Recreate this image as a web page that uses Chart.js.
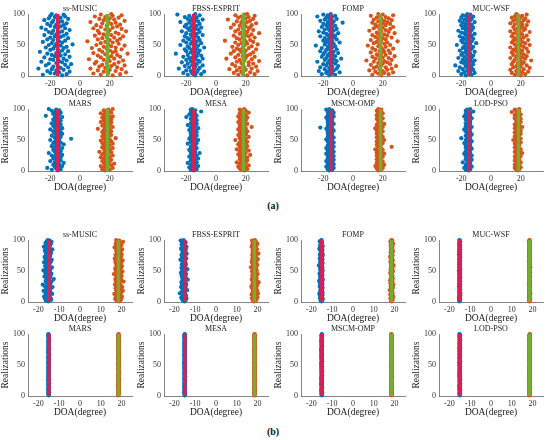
<!DOCTYPE html>
<html lang="en">
<head>
    <meta charset="UTF-8">
    <title>DOA estimates per realization</title>
    <script src="https://cdn.jsdelivr.net/npm/chart.js"></script>
    <style>
        body { margin: 0; background: #fff; width: 550px; height: 440px; overflow: hidden; position: relative; }
        canvas.panel { position: absolute; }
        .tag { position: absolute; font: bold 10px "Liberation Serif", serif; color: #111; transform: translate(-50%, -50%); }
    </style>
</head>
<body>

    <div class="tag" style="left:273px; top:205px;">(a)</div>
    <div class="tag" style="left:273px; top:431px;">(b)</div>

    <script>
        // method names, same order in (a) and (b)
        const methods = ['ss-MUSIC', 'FBSS-ESPRIT', 'FOMP', 'MUC-WSF', 'MARS', 'MESA', 'MSCM-OMP', 'LOD-PSO'];
        const trueDoa = [-15, 18.5];
        const xTicksA = [-20, 0, 20];
        const xTicksB = [-20, -10, 0, 10, 20];
        const yTicks = [0, 50, 100];
        const realizations = Array.from({ length: 100 }, (_, i) => i + 1);

        // ---- (a) estimates, source 1 / source 2 ----
        const aMusicS1 = [-12,-25,-9,-17,-20,-14,-7,-22,-16,-11,-19,-28,-13,-8,-18,-15,-23,-10,-6,-21,
            -16,-12,-26,-14,-9,-18,-20,-11,-15,-24,-7,-17,-13,-19,-10,-22,-16,-14,-27,-8,
            -12,-20,-15,-18,-11,-23,-9,-17,-13,-21,-5,-16,-19,-12,-25,-14,-10,-18,-22,-15,
            -8,-20,-13,-17,-11,-24,-16,-9,-19,-14,-21,-12,-18,-7,-23,-15,-10,-26,-17,-13,
            -20,-11,-16,-22,-9,-19,-14,-12,-18,-24,-15,-8,-21,-13,-17,-10,-20,-16,-11,-19];
        const aMusicS2 = [22,14,27,9,19,31,16,24,12,20,28,7,17,25,13,21,30,15,23,10,
            18,26,11,20,29,16,6,23,19,14,27,21,12,25,17,32,9,22,15,24,
            20,13,28,18,8,24,16,21,30,11,19,26,14,22,17,5,25,20,12,27,
            15,23,18,29,10,21,16,26,13,24,19,31,12,20,17,28,9,22,14,25,
            18,11,27,21,15,24,7,19,30,16,23,13,20,26,17,10,22,28,14,21];
        const aEspritS1 = [-14,-19,-10,-16,-22,-13,-8,-17,-20,-12,-15,-25,-11,-18,-14,-21,-9,-16,-13,-19,
            -15,-23,-11,-17,-12,-20,-14,-9,-18,-16,-22,-13,-10,-19,-15,-27,-12,-17,-14,-20,
            -11,-16,-21,-13,-18,-8,-15,-19,-12,-24,-14,-17,-10,-20,-16,-13,-22,-11,-18,-15,
            -19,-12,-16,-21,-14,-9,-17,-13,-20,-15,-11,-23,-16,-18,-12,-14,-19,-10,-17,-21,
            -13,-16,-20,-11,-15,-18,-24,-12,-17,-14,-9,-19,-16,-13,-21,-15,-18,-11,-26,-14];
        const aEspritS2 = [21,15,26,18,12,23,17,28,14,20,9,24,16,19,27,13,22,18,11,25,
            17,22,14,29,19,16,24,7,20,13,26,18,21,15,23,10,19,25,17,12,
            20,16,27,14,22,18,11,24,19,15,28,21,17,13,25,20,6,23,16,19,
            14,26,18,22,12,20,24,16,29,17,21,13,19,25,15,22,18,10,23,20,
            16,24,12,19,27,17,21,14,23,18,8,25,20,15,22,17,26,13,19,21];
        const aFompS1 = [-16,-12,-21,-14,-18,-9,-17,-23,-13,-15,-19,-11,-16,-22,-14,-10,-18,-15,-20,-12,
            -17,-14,-24,-11,-16,-19,-13,-8,-18,-15,-21,-12,-17,-14,-20,-16,-10,-19,-13,-22,
            -15,-18,-11,-16,-21,-14,-17,-12,-25,-15,-19,-13,-16,-9,-18,-14,-20,-17,-11,-15,
            -19,-13,-16,-22,-12,-17,-14,-18,-10,-20,-15,-23,-13,-16,-19,-11,-17,-14,-21,-15,
            -12,-18,-16,-20,-14,-7,-17,-13,-22,-15,-19,-11,-16,-18,-14,-24,-12,-17,-20,-15];
        const aFompS2 = [19,13,24,17,21,27,15,20,11,23,18,26,14,22,16,29,19,12,25,20,
            17,23,14,21,9,26,18,15,24,20,13,28,17,22,16,19,25,12,21,18,
            24,15,20,27,13,19,22,17,10,25,18,21,14,23,16,30,19,12,22,17,
            20,26,15,18,23,13,21,17,28,16,24,19,11,22,18,25,14,20,27,16,
            18,22,15,25,20,13,23,17,21,26,14,19,24,16,22,18,12,27,20,17];
        const aMucS1 = [-17,-13,-20,-15,-11,-18,-14,-22,-16,-12,-19,-15,-13,-21,-17,-14,-24,-16,-12,-18,
            -15,-20,-13,-17,-11,-19,-14,-16,-22,-13,-18,-15,-12,-20,-16,-14,-19,-17,-11,-15,
            -21,-14,-17,-13,-19,-16,-12,-18,-15,-23,-14,-17,-10,-19,-16,-13,-20,-15,-18,-12,
            -16,-19,-14,-21,-13,-17,-15,-11,-18,-20,-14,-16,-22,-13,-17,-15,-19,-12,-16,-18,
            -14,-20,-13,-17,-15,-19,-11,-16,-21,-14,-18,-13,-16,-20,-15,-12,-17,-19,-14,-16];
        const aMucS2 = [20,16,23,18,14,21,25,17,19,13,22,18,26,15,20,17,24,19,14,21,
            18,22,15,20,27,16,19,23,13,21,17,24,19,15,22,18,20,14,25,17,
            21,15,19,24,17,13,22,18,20,26,16,19,23,14,21,18,15,25,17,20,
            16,22,19,14,24,18,21,15,20,17,26,13,19,22,16,23,18,20,15,21,
            19,24,16,21,13,20,18,25,15,22,17,19,23,14,20,16,21,18,24,17];
        const aMarsS1 = [-15,-19,-13,-16,-22,-14,-17,-12,-15,-18,-14,-16,-11,-17,-15,-20,-13,-16,-14,-18,
            -16,-13,-17,-15,-19,-12,-16,-14,-21,-15,-17,-13,-16,-18,-14,-15,-12,-17,-16,-19,
            -14,-16,-11,-15,-18,-13,-17,-15,-16,-20,-14,-6,-15,-17,-13,-16,-19,-14,-15,-12,
            -17,-15,-13,-18,-16,-14,-20,-15,-12,-17,-16,-14,-18,-15,-13,-16,-19,-14,-17,-15,
            -13,-16,-18,-14,-15,-17,-12,-16,-23,-15,-14,-18,-16,-13,-17,-15,-19,-14,-16,-21];
        const aMarsS2 = [17,20,15,19,22,16,18,14,21,17,19,23,16,18,20,15,17,21,19,16,
            18,14,20,17,22,19,15,18,16,21,13,19,17,20,18,16,22,15,19,17,
            20,16,18,22,15,19,17,21,14,18,20,16,24,17,19,15,18,21,16,20,
            17,19,15,21,18,16,20,12,19,17,22,18,15,20,16,19,17,21,14,18,
            19,16,21,17,18,15,20,22,17,19,16,18,14,21,17,20,18,16,19,22];
        const aMesaS1 = [-15,-17,-13,-16,-14,-18,-15,-12,-16,-17,-14,-15,-19,-13,-16,-15,-17,-14,-16,-12,
            -16,-14,-18,-15,-13,-17,-15,-16,-11,-14,-17,-15,-16,-18,-14,-15,-13,-16,-17,-15,
            -14,-16,-15,-19,-13,-15,-17,-14,-16,-12,-15,-18,-14,-16,-15,-17,-13,-16,-15,-14,
            -17,-15,-13,-16,-14,-18,-15,-16,-12,-17,-15,-14,-16,-19,-15,-13,-17,-16,-14,-15,
            -16,-13,-15,-17,-14,-16,-20,-15,-13,-16,-18,-14,-15,-17,-16,-10,-15,-14,-17,-16];
        const aMesaS2 = [19,17,21,16,18,20,15,19,22,17,18,16,20,14,19,17,21,18,16,20,
            18,21,16,19,17,23,15,18,20,17,19,16,22,18,14,20,17,19,16,21,
            17,19,15,20,18,16,21,19,17,13,18,20,16,19,22,17,18,15,20,17,
            20,16,18,21,17,19,15,18,20,16,24,17,19,18,16,21,17,19,15,18,
            18,20,16,19,17,21,18,15,19,20,17,18,16,22,19,17,20,18,16,19];
        const aMscmS1 = [-16,-14,-17,-15,-13,-16,-18,-15,-14,-16,-13,-17,-15,-16,-14,-18,-15,-13,-16,-17,
            -15,-14,-16,-13,-17,-15,-16,-18,-14,-15,-13,-16,-17,-15,-14,-16,-18,-15,-13,-16,
            -17,-15,-14,-16,-15,-13,-17,-16,-15,-14,-18,-16,-15,-13,-17,-15,-16,-14,-15,-17,
            -16,-14,-15,-17,-13,-16,-15,-18,-14,-22,-16,-15,-17,-14,-16,-13,-15,-17,-16,-14,
            -15,-17,-16,-14,-15,-18,-16,-13,-15,-17,-14,-16,-15,-13,-17,-16,-15,-14,-18,-16];
        const aMscmS2 = [17,19,18,16,20,17,19,15,18,21,17,19,16,18,20,17,18,19,16,18,
            19,17,20,18,16,19,17,21,18,16,19,18,17,20,15,18,19,17,26,18,
            18,16,19,17,20,18,19,16,17,21,18,19,17,16,20,18,17,19,18,16,
            17,19,18,20,16,18,17,19,15,18,20,17,19,18,16,21,18,17,19,18,
            19,17,18,16,20,18,17,19,18,16,19,17,20,18,17,19,16,18,19,17];
        const aLodS1 = [-15,-17,-14,-16,-18,-15,-13,-16,-15,-17,-14,-16,-15,-19,-14,-16,-15,-13,-17,-15,
            -16,-14,-15,-17,-13,-16,-15,-18,-14,-16,-15,-17,-14,-16,-15,-13,-16,-17,-15,-14,
            -17,-15,-16,-14,-18,-15,-16,-13,-15,-17,-14,-16,-20,-15,-16,-14,-17,-15,-13,-16,
            -15,-16,-14,-17,-15,-16,-18,-14,-15,-16,-13,-17,-15,-14,-16,-15,-17,-14,-16,-15,
            -14,-16,-17,-15,-13,-16,-15,-18,-14,-16,-15,-17,-14,-15,-16,-12,-17,-15,-16,-14];
        const aLodS2 = [18,17,19,18,16,20,17,19,18,16,19,17,18,20,17,19,16,18,19,17,
            19,18,16,20,17,18,19,17,21,18,16,19,18,17,20,18,19,16,18,17,
            17,19,18,16,19,20,17,18,19,15,18,20,17,19,18,16,19,17,18,20,
            18,16,19,17,20,18,17,19,16,18,21,17,19,18,16,19,18,17,20,18,
            19,17,18,20,16,18,19,17,18,16,20,19,17,18,14,19,17,18,16,19];

        // ---- (b) estimates, source 1 / source 2 ----
        const bMusicS1 = [-15.2,-16.4,-14.1,-15.8,-13.9,-16.9,-15.0,-14.5,-17.2,-15.6,-14.8,-16.1,-13.4,-15.3,-16.6,-14.2,-15.9,-17.5,-14.7,-15.4,
            -16.3,-14.0,-15.7,-13.2,-16.8,-15.1,-14.6,-17.9,-15.5,-14.3,-16.2,-15.0,-13.7,-16.5,-14.9,-15.8,-12.6,-16.0,-14.4,-15.6,
            -17.1,-15.2,-14.1,-16.4,-15.7,-13.8,-16.7,-15.0,-14.5,-16.1,-17.6,-15.3,-14.2,-15.9,-16.3,-13.5,-15.4,-16.8,-14.8,-15.1,
            -16.0,-14.6,-15.5,-17.3,-14.0,-15.8,-16.4,-13.6,-15.2,-16.7,-14.9,-15.6,-17.0,-14.3,-15.9,-16.2,-14.7,-15.0,-13.9,-16.5,
            -15.3,-14.2,-16.9,-15.7,-13.3,-16.1,-15.0,-14.8,-17.4,-15.5,-14.4,-16.3,-15.1,-14.0,-16.6,-15.8,-13.7,-16.0,-14.6,-15.4];
        const bMusicS2 = [18.7,17.6,19.5,18.2,16.9,19.9,18.4,17.3,20.1,18.8,17.9,19.2,16.5,18.5,19.7,17.7,18.9,20.6,17.4,18.3,
            19.4,17.1,18.6,20.3,17.8,18.1,19.6,16.8,18.9,17.5,19.1,18.4,20.9,17.2,18.7,19.8,17.0,18.2,19.3,17.6,
            18.5,20.0,17.4,18.9,16.3,19.5,18.1,17.7,20.4,18.6,17.2,19.0,18.3,16.9,19.7,18.0,17.5,20.2,18.8,17.9,
            19.2,17.3,18.6,19.9,17.0,18.4,20.5,17.8,18.9,16.7,19.4,18.2,17.6,19.8,18.5,17.1,20.0,18.3,17.7,19.1,
            18.0,19.6,17.4,18.8,20.3,17.9,18.4,16.6,19.3,18.1,17.5,19.9,18.6,17.2,19.0,18.3,20.7,17.8,18.9,17.4];
        const bEspritS1 = [-15.1,-15.8,-14.6,-16.2,-15.4,-14.2,-16.7,-15.0,-15.9,-14.4,-16.0,-15.3,-14.8,-17.4,-15.6,-14.9,-16.3,-15.2,-13.9,-15.7,
            -16.1,-14.7,-15.5,-16.8,-15.0,-14.5,-15.9,-16.4,-14.3,-15.6,-15.1,-16.6,-14.9,-15.4,-16.0,-13.6,-15.7,-15.2,-16.3,-14.6,
            -15.8,-14.9,-16.5,-15.3,-14.4,-15.9,-16.9,-15.1,-14.7,-15.6,-16.2,-15.0,-13.8,-15.5,-16.6,-14.8,-15.4,-16.1,-15.2,-14.5,
            -16.4,-15.0,-14.6,-15.8,-16.0,-14.9,-15.5,-17.1,-15.2,-14.3,-15.7,-16.3,-15.1,-14.7,-15.9,-16.6,-15.4,-14.1,-15.6,-16.0,
            -15.3,-14.8,-16.2,-15.5,-14.5,-16.8,-15.0,-15.7,-14.2,-16.1,-15.4,-14.9,-16.5,-15.1,-15.8,-14.6,-16.3,-15.2,-17.0,-15.6];
        const bEspritS2 = [18.2,19.1,17.7,18.8,19.6,17.3,18.5,19.9,17.9,18.4,19.3,17.1,18.7,20.2,18.0,17.6,19.0,18.3,19.7,17.8,
            18.9,17.4,18.6,19.4,17.0,18.1,19.8,18.5,17.5,19.2,18.0,20.5,17.8,18.7,19.1,17.2,18.4,19.5,18.2,17.6,
            19.3,18.1,17.5,18.9,20.0,17.9,18.6,19.2,17.3,18.3,19.6,18.0,17.7,19.0,18.5,16.8,19.4,18.2,17.9,19.8,
            18.4,17.6,19.1,18.7,17.2,19.5,18.0,18.8,20.1,17.5,18.3,19.3,17.8,18.6,19.0,17.4,18.9,20.4,18.1,17.7,
            19.2,18.3,17.6,18.8,19.7,17.9,18.4,19.0,17.1,18.6,19.4,18.1,17.5,19.9,18.5,17.8,19.2,18.0,17.3,18.7];
        const bFompS1 = [-15.2,-14.8,-15.6,-15.0,-14.5,-15.4,-15.9,-14.9,-15.3,-15.7,-14.7,-15.1,-16.2,-15.5,-14.6,-15.0,-15.8,-15.2,-14.9,-15.4,
            -15.6,-15.0,-14.6,-15.3,-16.0,-14.8,-15.5,-15.1,-14.7,-15.9,-15.2,-14.9,-15.4,-16.3,-15.0,-14.5,-15.7,-15.3,-14.8,-15.6,
            -15.1,-15.8,-14.7,-15.4,-15.0,-16.1,-14.9,-15.5,-15.2,-14.6,-15.7,-15.0,-14.8,-15.3,-15.9,-14.7,-15.4,-15.1,-16.4,-14.9,
            -15.5,-15.2,-14.6,-15.8,-15.0,-14.9,-15.6,-15.3,-14.7,-16.0,-15.1,-15.4,-14.8,-15.7,-15.2,-14.5,-15.9,-15.0,-15.3,-14.8,
            -15.4,-15.0,-15.7,-14.7,-15.2,-16.2,-14.9,-15.5,-15.1,-14.6,-15.8,-15.3,-15.0,-14.8,-15.6,-15.2,-14.9,-16.0,-15.4,-15.1];
        const bFompS2 = [18.6,18.2,18.9,18.4,19.1,18.0,18.7,18.5,19.3,18.3,18.8,17.9,18.6,19.0,18.4,18.2,18.9,18.7,17.7,18.5,
            18.8,18.3,19.2,18.6,18.1,18.9,18.4,19.4,18.5,18.0,18.7,18.3,19.0,18.6,17.8,18.8,18.4,19.1,18.2,18.6,
            18.4,19.0,18.6,18.2,18.8,18.5,17.9,18.9,18.3,19.2,18.6,18.4,18.1,18.8,19.0,18.5,18.3,18.7,19.5,18.4,
            18.7,18.3,18.9,18.5,18.0,18.8,19.1,18.4,18.6,18.2,18.9,18.5,17.8,18.7,19.0,18.3,18.6,18.9,18.4,18.1,
            18.5,19.2,18.3,18.7,18.4,18.9,18.2,18.6,19.0,18.5,18.1,18.8,18.4,19.3,18.6,18.3,18.7,18.0,18.9,18.5];
        const bMucS1 = [-15.1,-14.9,-15.3,-15.0,-14.8,-15.2,-15.4,-14.9,-15.1,-15.3,-14.8,-15.0,-15.2,-14.7,-15.1,-15.3,-14.9,-15.0,-15.2,-14.8,
            -15.0,-15.2,-14.9,-15.1,-15.4,-14.8,-15.0,-15.3,-15.1,-14.9,-15.2,-15.0,-14.8,-15.1,-15.3,-15.0,-14.9,-15.2,-15.1,-14.8,
            -15.2,-14.9,-15.1,-15.0,-15.3,-14.8,-15.1,-15.2,-14.9,-15.0,-15.4,-15.1,-14.8,-15.0,-15.2,-14.9,-15.1,-15.3,-15.0,-14.9,
            -15.1,-15.3,-14.9,-15.0,-15.2,-14.8,-15.1,-14.9,-15.3,-15.0,-15.1,-14.8,-15.2,-15.0,-14.9,-15.1,-15.4,-15.0,-14.8,-15.2,
            -14.9,-15.1,-15.2,-15.0,-14.8,-15.3,-15.1,-14.9,-15.0,-15.2,-14.8,-15.1,-15.3,-15.0,-14.9,-15.2,-15.1,-14.8,-15.0,-15.2];
        const bMucS2 = [18.5,18.7,18.3,18.6,18.4,18.8,18.5,18.2,18.6,18.4,18.7,18.5,18.3,18.9,18.5,18.6,18.4,18.7,18.3,18.5,
            18.6,18.4,18.5,18.8,18.3,18.6,18.5,18.7,18.4,18.2,18.6,18.5,18.8,18.4,18.6,18.3,18.5,18.7,18.4,18.6,
            18.4,18.6,18.7,18.5,18.3,18.6,18.4,18.8,18.5,18.6,18.3,18.7,18.5,18.4,18.6,18.9,18.5,18.3,18.6,18.4,
            18.7,18.5,18.4,18.6,18.2,18.5,18.7,18.4,18.6,18.5,18.8,18.3,18.6,18.5,18.4,18.7,18.5,18.6,18.3,18.5,
            18.6,18.4,18.5,18.7,18.3,18.6,18.5,18.4,18.8,18.5,18.6,18.3,18.5,18.7,18.4,18.6,18.5,18.2,18.6,18.5];
        const bMarsS1 = [-15.0,-15.2,-14.9,-15.1,-15.3,-14.8,-15.0,-15.2,-15.1,-14.9,-15.3,-15.0,-14.8,-15.2,-15.1,-14.9,-15.0,-15.3,-15.1,-14.8,
            -15.2,-15.0,-14.9,-15.1,-15.4,-15.0,-14.8,-15.2,-15.1,-14.9,-15.0,-15.3,-15.1,-14.8,-15.2,-15.0,-14.9,-15.1,-15.3,-15.0,
            -14.9,-15.1,-15.2,-15.0,-14.8,-15.3,-15.1,-14.9,-15.0,-15.2,-15.1,-14.8,-15.0,-15.3,-14.9,-15.1,-15.2,-15.0,-14.8,-15.1,
            -15.3,-15.0,-14.9,-15.2,-15.1,-14.8,-15.0,-15.2,-14.9,-15.1,-15.4,-15.0,-14.9,-15.1,-15.2,-15.0,-14.8,-15.3,-15.1,-14.9,
            -15.1,-15.0,-15.2,-14.8,-15.1,-14.9,-15.3,-15.0,-15.2,-14.9,-15.1,-15.0,-14.8,-15.2,-15.1,-14.9,-15.3,-15.0,-15.1,-15.2];
        const bMarsS2 = [18.4,18.6,18.5,18.7,18.3,18.5,18.6,18.4,18.8,18.5,18.3,18.6,18.5,18.7,18.4,18.6,18.2,18.5,18.7,18.4,
            18.5,18.7,18.4,18.6,18.5,18.3,18.8,18.5,18.6,18.4,18.7,18.5,18.3,18.6,18.5,18.9,18.4,18.6,18.5,18.7,
            18.6,18.4,18.5,18.7,18.3,18.6,18.5,18.4,18.7,18.5,18.6,18.2,18.5,18.8,18.4,18.6,18.5,18.7,18.3,18.6,
            18.5,18.3,18.7,18.4,18.6,18.5,18.8,18.4,18.5,18.6,18.3,18.7,18.5,18.4,18.6,18.5,18.7,18.3,18.6,18.5,
            18.7,18.5,18.4,18.6,18.5,18.3,18.6,18.8,18.4,18.5,18.7,18.4,18.6,18.5,18.3,18.7,18.5,18.6,18.4,18.6];
        const bMesaS1 = [-15.1,-14.9,-15.0,-15.2,-14.8,-15.1,-15.3,-15.0,-14.9,-15.2,-15.0,-15.1,-14.8,-15.2,-15.0,-15.3,-14.9,-15.1,-15.0,-15.2,
            -14.9,-15.1,-15.2,-15.0,-14.8,-15.1,-15.0,-15.3,-14.9,-15.1,-15.2,-14.8,-15.0,-15.1,-15.3,-14.9,-15.0,-15.2,-15.1,-14.8,
            -15.0,-15.2,-14.9,-15.1,-15.0,-15.3,-14.8,-15.1,-15.2,-15.0,-14.9,-15.1,-15.4,-15.0,-14.8,-15.2,-15.1,-14.9,-15.0,-15.2,
            -15.1,-14.8,-15.0,-15.2,-15.1,-14.9,-15.3,-15.0,-15.1,-14.9,-15.2,-15.0,-14.8,-15.1,-15.3,-15.0,-14.9,-15.2,-15.1,-15.0,
            -15.2,-15.0,-14.9,-15.1,-15.3,-15.0,-14.8,-15.2,-15.1,-14.9,-15.0,-15.2,-15.1,-14.8,-15.0,-15.3,-15.1,-14.9,-15.2,-15.0];
        const bMesaS2 = [18.5,18.4,18.6,18.7,18.5,18.3,18.6,18.5,18.8,18.4,18.5,18.6,18.3,18.7,18.5,18.4,18.6,18.5,18.7,18.4,
            18.6,18.5,18.3,18.7,18.4,18.6,18.5,18.8,18.4,18.5,18.6,18.3,18.5,18.7,18.4,18.6,18.5,18.3,18.7,18.5,
            18.4,18.6,18.5,18.7,18.3,18.5,18.6,18.4,18.8,18.5,18.6,18.4,18.5,18.3,18.7,18.5,18.6,18.4,18.5,18.7,
            18.5,18.7,18.4,18.6,18.5,18.3,18.6,18.5,18.4,18.7,18.5,18.6,18.2,18.5,18.7,18.4,18.6,18.5,18.8,18.4,
            18.6,18.4,18.5,18.7,18.5,18.3,18.6,18.4,18.5,18.7,18.6,18.4,18.5,18.3,18.6,18.5,18.7,18.4,18.5,18.6];
        const bMscmS1 = [-15.0,-15.1,-14.9,-15.2,-15.0,-14.8,-15.1,-15.3,-15.0,-14.9,-15.1,-15.2,-15.0,-14.8,-15.1,-15.0,-15.2,-14.9,-15.1,-15.3,
            -15.1,-14.9,-15.0,-15.2,-15.1,-14.8,-15.0,-15.3,-14.9,-15.1,-15.0,-15.2,-14.8,-15.1,-15.0,-14.9,-15.2,-15.1,-15.0,-14.8,
            -15.2,-15.0,-15.1,-14.9,-15.3,-15.0,-14.8,-15.1,-15.2,-15.0,-14.9,-15.1,-15.3,-15.0,-15.1,-14.8,-15.0,-15.2,-14.9,-15.1,
            -15.0,-15.2,-14.9,-15.1,-15.0,-15.3,-14.8,-15.1,-15.0,-15.2,-14.9,-15.0,-15.1,-15.4,-15.0,-14.9,-15.1,-15.2,-15.0,-14.8,
            -15.1,-15.0,-15.2,-14.9,-15.0,-15.1,-14.8,-15.3,-15.0,-15.1,-14.9,-15.2,-15.0,-15.1,-14.8,-15.0,-15.2,-15.1,-14.9,-15.0];
        const bMscmS2 = [18.6,18.5,18.4,18.7,18.5,18.6,18.3,18.5,18.7,18.4,18.6,18.5,18.8,18.4,18.5,18.6,18.3,18.7,18.5,18.4,
            18.5,18.7,18.4,18.6,18.5,18.3,18.6,18.5,18.7,18.4,18.5,18.8,18.5,18.4,18.6,18.5,18.3,18.6,18.7,18.5,
            18.4,18.5,18.6,18.7,18.4,18.5,18.6,18.3,18.5,18.7,18.4,18.6,18.5,18.4,18.8,18.5,18.6,18.4,18.5,18.7,
            18.6,18.4,18.5,18.7,18.3,18.6,18.5,18.4,18.6,18.5,18.7,18.4,18.5,18.6,18.3,18.5,18.7,18.6,18.4,18.5,
            18.5,18.6,18.4,18.5,18.7,18.5,18.4,18.6,18.3,18.5,18.7,18.4,18.6,18.5,18.5,18.8,18.4,18.6,18.5,18.4];
        const bLodS1 = [-15.0,-14.9,-15.1,-15.0,-15.2,-14.9,-15.0,-15.1,-14.8,-15.0,-15.2,-15.1,-14.9,-15.0,-15.1,-15.3,-14.9,-15.0,-15.1,-14.8,
            -15.1,-15.0,-14.9,-15.2,-15.0,-15.1,-14.8,-15.0,-15.2,-14.9,-15.1,-15.0,-15.3,-14.9,-15.0,-15.1,-14.8,-15.2,-15.0,-15.1,
            -14.9,-15.1,-15.0,-15.2,-14.8,-15.0,-15.1,-14.9,-15.2,-15.0,-15.1,-14.9,-15.0,-15.3,-15.1,-14.8,-15.0,-15.2,-14.9,-15.1,
            -15.0,-15.2,-14.9,-15.0,-15.1,-14.8,-15.2,-15.0,-15.1,-14.9,-15.0,-15.2,-15.1,-14.9,-15.0,-15.1,-14.8,-15.3,-15.0,-14.9,
            -15.1,-14.9,-15.0,-15.2,-15.0,-15.1,-14.9,-15.0,-15.2,-14.8,-15.1,-15.0,-14.9,-15.1,-15.2,-15.0,-14.9,-15.1,-15.0,-15.2];
        const bLodS2 = [18.5,18.6,18.4,18.5,18.7,18.4,18.6,18.5,18.3,18.6,18.5,18.7,18.4,18.5,18.6,18.8,18.4,18.5,18.6,18.3,
            18.6,18.5,18.4,18.7,18.5,18.6,18.3,18.5,18.7,18.4,18.6,18.5,18.8,18.4,18.5,18.6,18.3,18.7,18.5,18.6,
            18.4,18.6,18.5,18.7,18.3,18.5,18.6,18.4,18.7,18.5,18.6,18.4,18.5,18.8,18.6,18.3,18.5,18.7,18.4,18.6,
            18.5,18.7,18.4,18.5,18.6,18.3,18.7,18.5,18.6,18.4,18.5,18.7,18.6,18.4,18.5,18.6,18.3,18.8,18.5,18.4,
            18.6,18.4,18.5,18.7,18.5,18.6,18.4,18.5,18.7,18.3,18.6,18.5,18.4,18.6,18.7,18.5,18.4,18.6,18.5,18.7];

        const estimatesA = [[aMusicS1, aMusicS2], [aEspritS1, aEspritS2], [aFompS1, aFompS2], [aMucS1, aMucS2],
                            [aMarsS1, aMarsS2], [aMesaS1, aMesaS2], [aMscmS1, aMscmS2], [aLodS1, aLodS2]];
        const estimatesB = [[bMusicS1, bMusicS2], [bEspritS1, bEspritS2], [bFompS1, bFompS2], [bMucS1, bMucS2],
                            [bMarsS1, bMarsS2], [bMesaS1, bMesaS2], [bMscmS1, bMscmS2], [bLodS1, bLodS2]];

        // panel placement (left edge of axes, top of axes)
        const colLeft = [28, 164, 301, 439];
        const rowTopA = [14, 109];
        const rowTopB = [240, 334];
        const plotW = 104, plotH = 62;
        const padL = 28, padT = 14, padR = 6, padB = 22;

        const serif = '"Liberation Serif", "Times New Roman", serif';
        const blue = '#0072BD', orange = '#D95319', red = '#DC1E52', green = '#77AC30';

        // panel title centred over the axes
        const panelTitle = {
            id: 'panelTitle',
            afterDraw(chart, args, opts) {
                const { ctx, chartArea } = chart;
                ctx.save();
                ctx.font = '8px ' + serif;
                ctx.fillStyle = '#222';
                ctx.textAlign = 'center';
                ctx.textBaseline = 'middle';
                ctx.fillText(opts.text, (chartArea.left + chartArea.right) / 2, chartArea.top - 5);
                ctx.restore();
            }
        };

        const toPoints = est => est.map((v, i) => ({ x: v, y: realizations[i] }));

        function makePanel(left, top, name, est, xRange, xTicks) {
            const canvas = document.createElement('canvas');
            canvas.className = 'panel';
            const w = padL + plotW + padR, h = padT + plotH + padB;
            canvas.width = w; canvas.height = h;
            canvas.style.left = (left - padL) + 'px';
            canvas.style.top = (top - padT) + 'px';
            canvas.style.width = w + 'px';
            canvas.style.height = h + 'px';
            document.body.appendChild(canvas);

            const vline = (x, color) => ({
                data: [{ x: x, y: 0 }, { x: x, y: 100 }],
                showLine: true, borderColor: color, borderWidth: 3.5,
                pointRadius: 0, clip: false
            });
            const dots = (vals, color) => ({
                data: toPoints(vals),
                backgroundColor: color, borderColor: color, borderWidth: 0,
                pointRadius: 2.1, clip: false
            });

            new Chart(canvas, {
                type: 'scatter',
                data: {
                    datasets: [
                        vline(trueDoa[0], red), vline(trueDoa[1], green),
                        dots(est[0], blue), dots(est[1], orange)
                    ]
                },
                options: {
                    responsive: false,
                    animation: false,
                    events: [],
                    layout: { padding: { top: padT, right: padR, left: 0, bottom: 0 } },
                    plugins: {
                        legend: { display: false },
                        tooltip: { enabled: false },
                        panelTitle: { text: name }
                    },
                    scales: {
                        x: {
                            type: 'linear', min: xRange[0], max: xRange[1],
                            afterBuildTicks: s => { s.ticks = xTicks.map(v => ({ value: v })); },
                            afterFit: s => { s.height = padB; },
                            grid: { display: false, drawTicks: false },
                            border: { color: '#666', width: 0.8 },
                            ticks: { font: { family: serif, size: 8 }, color: '#333', padding: 3, maxRotation: 0 },
                            title: { display: true, text: 'DOA(degree)', font: { family: serif, size: 9.5 }, color: '#222', padding: 0 }
                        },
                        y: {
                            type: 'linear', min: 0, max: 100,
                            afterBuildTicks: s => { s.ticks = yTicks.map(v => ({ value: v })); },
                            afterFit: s => { s.width = padL; },
                            grid: { display: false, drawTicks: false },
                            border: { color: '#666', width: 0.8 },
                            ticks: { font: { family: serif, size: 8 }, color: '#333', padding: 3 },
                            title: { display: true, text: 'Realizations', font: { family: serif, size: 9.5 }, color: '#222', padding: 0 }
                        }
                    }
                },
                plugins: [panelTitle]
            });
        }

        methods.forEach((name, k) => {
            const c = k % 4, r = Math.floor(k / 4);
            makePanel(colLeft[c], rowTopA[r], name, estimatesA[k], [-35, 35], xTicksA);
            makePanel(colLeft[c], rowTopB[r], name, estimatesB[k], [-25, 25], xTicksB);
        });
    </script>

</body>
</html>
